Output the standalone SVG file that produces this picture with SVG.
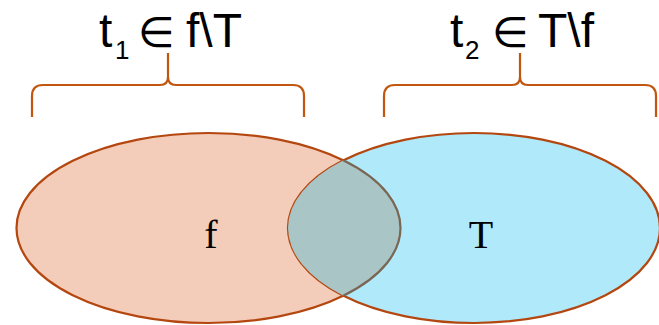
<svg xmlns="http://www.w3.org/2000/svg" width="659" height="325" viewBox="0 0 659 325">
  <style>
    .set { stroke: #B4470F; stroke-width: 2.2; }
    .brace { fill: none; stroke: #C0560F; stroke-width: 2.2; stroke-linecap: butt; }
    .lbl { font-family: "Liberation Sans", Arial, sans-serif; font-size: 48px; fill: #000; }
    .sub { font-family: "Liberation Sans", Arial, sans-serif; font-size: 26px; fill: #000; }
    .sym { font-family: "DejaVu Sans", sans-serif; font-size: 42px; fill: #000; }
    .name { font-family: "Liberation Serif", "Times New Roman", serif; font-size: 40px; fill: #000; text-anchor: middle; }
  </style>
  <defs>
    <clipPath id="clipT">
      <ellipse cx="474" cy="228" rx="186" ry="95"/>
    </clipPath>
  </defs>

  <!-- Set f -->
  <g id="set-f">
    <ellipse class="set" cx="208.5" cy="228" rx="192" ry="95" fill="#F4CDBA"/>
    <text class="name" x="211" y="248">f</text>
  </g>

  <!-- Set T -->
  <g id="set-T">
    <ellipse class="set" cx="474" cy="228" rx="186" ry="95" fill="#B0EAFA"/>
    <text class="name" x="481" y="248">T</text>
  </g>

  <!-- Overlap of f and T -->
  <g id="overlap" clip-path="url(#clipT)">
    <ellipse cx="208.5" cy="228" rx="192" ry="95" fill="#A9C5C5" stroke="#7A6654" stroke-width="2.2"/>
  </g>

  <!-- Braces grouping each side -->
  <g id="braces">
    <path class="brace" d="M32,117 V96 Q32,85 43,85 H160 Q168,85 168,77 V53 M168,77 Q168,85 176,85 H293 Q304,85 304,96 V117"/>
    <path class="brace" d="M384,117 V96 Q384,85 395,85 H512 Q520,85 520,77 V53 M520,77 Q520,85 528,85 H645 Q656,85 656,96 V117"/>
  </g>

  <!-- Labels -->
  <g id="label-t1">
    <text class="lbl" y="47"><tspan x="99">t</tspan><tspan class="sub" x="115" y="59">1</tspan><tspan class="sym" x="138" y="47">∈</tspan><tspan x="186" y="47">f\T</tspan></text>
  </g>
  <g id="label-t2">
    <text class="lbl" y="47"><tspan x="450">t</tspan><tspan class="sub" x="465" y="59">2</tspan><tspan class="sym" x="492" y="47">∈</tspan><tspan x="538" y="47">T\f</tspan></text>
  </g>
</svg>
